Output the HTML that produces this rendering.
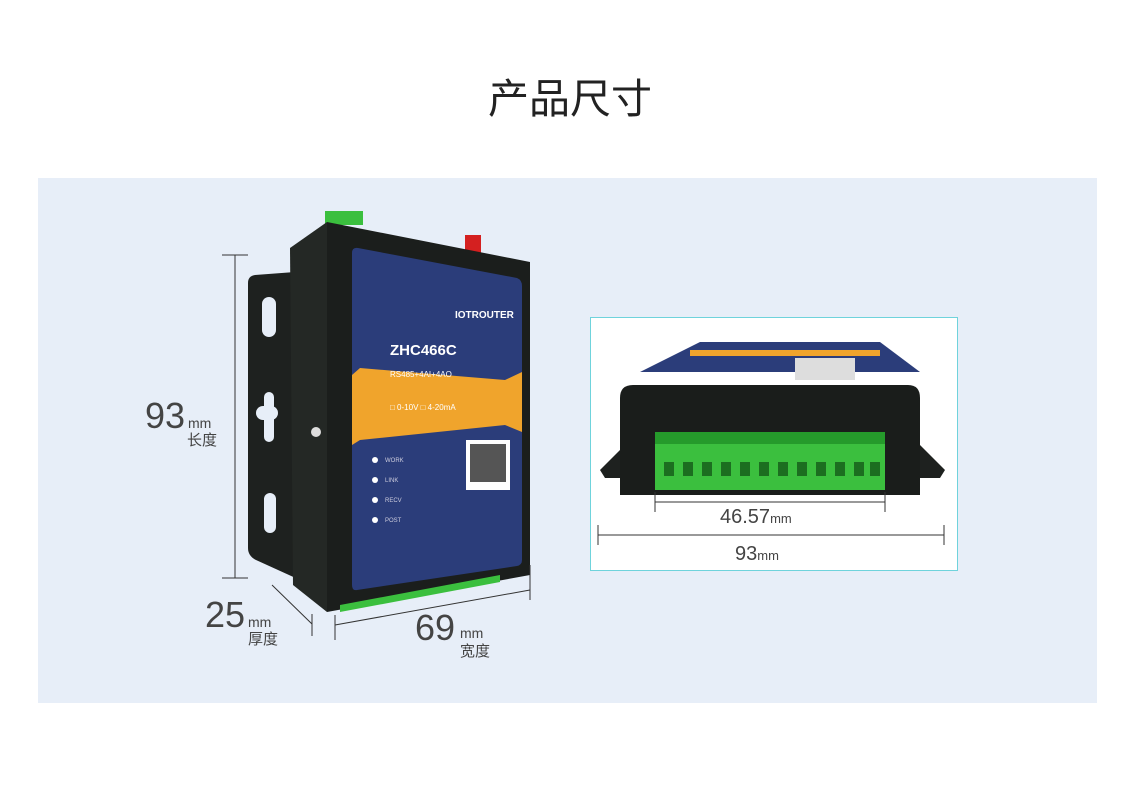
<!DOCTYPE html>
<html><head><meta charset="utf-8"><style>
html,body{margin:0;padding:0;background:#fff;width:1140px;height:796px;overflow:hidden}
</style></head><body>
<svg width="1140" height="796" viewBox="0 0 1140 796" xmlns="http://www.w3.org/2000/svg" font-family="Liberation Sans, Noto Sans CJK SC, sans-serif">
<text x="570" y="113" text-anchor="middle" font-size="41" fill="#222" font-family="Liberation Sans, Noto Sans CJK SC, sans-serif">产品尺寸</text>
<rect x="38" y="178" width="1059" height="525" fill="#e7eef8"/>
<!-- left device -->
<path d="M255 275 L295 272 L300 580 L256 560 Q248 556 248 548 L248 283 Q248 276 255 275Z" fill="#1e211f"/>
<rect x="262" y="297" width="14" height="40" rx="7" fill="#e7eef8"/>
<rect x="264" y="392" width="10" height="50" rx="5" fill="#e7eef8"/>
<rect x="256" y="406" width="22" height="14" rx="7" fill="#e7eef8"/>
<rect x="264" y="493" width="12" height="40" rx="6" fill="#e7eef8"/>
<rect x="325" y="211" width="38" height="14" fill="#3bbf3e"/>
<rect x="465" y="235" width="16" height="18" fill="#d42020"/>
<path d="M290 248 L327 222 L327 612 L293 585Z" fill="#242825"/>
<path d="M327 222 L530 262 L530 575 L327 612Z" fill="#1b1e1c"/>
<path d="M340 605 L500 575 L500 582 L340 612Z" fill="#3bbf3e"/>
<path d="M352 253 Q352 247 358 248 L517 278 Q522 280 522 286 L522 560 Q522 565 517 566 L357 590 Q352 591 352 585Z" fill="#2b3d7a"/>
<path d="M352 375 L360 368 L505 380 L522 372 L522 432 L505 425 L360 440 L352 445Z" fill="#f0a42c"/>
<text x="455" y="318" font-size="10" fill="#fff" font-weight="bold">IOTROUTER</text>
<text x="390" y="355" font-size="15" fill="#fff" font-weight="bold">ZHC466C</text>
<text x="390" y="377" font-size="8" fill="#fff">RS485+4AI+4AO</text>
<text x="390" y="410" font-size="8" fill="#fff">□ 0-10V  □ 4-20mA</text>
<rect x="466" y="440" width="44" height="50" fill="#fff"/>
<rect x="470" y="444" width="36" height="38" fill="#555"/>
<g fill="#fff"><circle cx="375" cy="460" r="3"/><circle cx="375" cy="480" r="3"/><circle cx="375" cy="500" r="3"/><circle cx="375" cy="520" r="3"/></g>
<g font-size="6" fill="#ccd"><text x="385" y="462">WORK</text><text x="385" y="482">LINK</text><text x="385" y="502">RECV</text><text x="385" y="522">POST</text></g>
<circle cx="316" cy="432" r="5" fill="#ddd"/>
<!-- dim lines -->
<g stroke="#333" stroke-width="1" fill="none">
<line x1="235" y1="255" x2="235" y2="578"/><line x1="222" y1="255" x2="248" y2="255"/><line x1="222" y1="578" x2="248" y2="578"/>
<line x1="272" y1="585" x2="312" y2="624"/><line x1="312" y1="614" x2="312" y2="636"/>
<line x1="335" y1="625" x2="530" y2="590"/><line x1="335" y1="615" x2="335" y2="640"/><line x1="530" y1="565" x2="530" y2="600"/>
</g>
<g fill="#444">
<text x="145" y="428" font-size="36">93</text><text x="188" y="428" font-size="14">mm</text><text x="187" y="445" font-size="15">长度</text>
<text x="205" y="627" font-size="36">25</text><text x="248" y="627" font-size="14">mm</text><text x="248" y="644" font-size="15">厚度</text>
<text x="415" y="640" font-size="36">69</text><text x="460" y="638" font-size="14">mm</text><text x="460" y="656" font-size="15">宽度</text>
</g>
<!-- right box -->
<rect x="590.5" y="317.5" width="367" height="253" fill="#fff" stroke="#6fd3dc"/>
<path d="M600 470 L630 440 L915 440 L945 470 L940 478 L605 478Z" fill="#1e211f"/>
<path d="M640 372 L700 342 L880 342 L920 372Z" fill="#2b3d7a"/>
<path d="M690 350 L880 350 L880 356 L690 356Z" fill="#f0a42c"/>
<rect x="795" y="358" width="60" height="22" fill="#ddd"/>
<path d="M620 398 Q620 385 633 385 L908 385 Q920 385 920 398 L920 495 L620 495Z" fill="#1a1d1b"/>
<rect x="655" y="432" width="230" height="58" fill="#3bbf3e"/>
<g fill="#259a2b"><rect x="655" y="432" width="230" height="12"/></g>
<g fill="#1c6e20">
<rect x="664" y="462" width="10" height="14"/><rect x="683" y="462" width="10" height="14"/><rect x="702" y="462" width="10" height="14"/><rect x="721" y="462" width="10" height="14"/><rect x="740" y="462" width="10" height="14"/><rect x="759" y="462" width="10" height="14"/><rect x="778" y="462" width="10" height="14"/><rect x="797" y="462" width="10" height="14"/><rect x="816" y="462" width="10" height="14"/><rect x="835" y="462" width="10" height="14"/><rect x="854" y="462" width="10" height="14"/><rect x="870" y="462" width="10" height="14"/>
</g>
<g stroke="#333" stroke-width="1">
<line x1="655" y1="502" x2="885" y2="502"/><line x1="655" y1="492" x2="655" y2="512"/><line x1="885" y1="492" x2="885" y2="512"/>
<line x1="598" y1="535" x2="944" y2="535"/><line x1="598" y1="525" x2="598" y2="545"/><line x1="944" y1="525" x2="944" y2="545"/>
</g>
<text x="720" y="523" font-size="20" fill="#444">46.57<tspan font-size="13">mm</tspan></text>
<text x="735" y="560" font-size="20" fill="#444">93<tspan font-size="13">mm</tspan></text>
</svg>
</body></html>
